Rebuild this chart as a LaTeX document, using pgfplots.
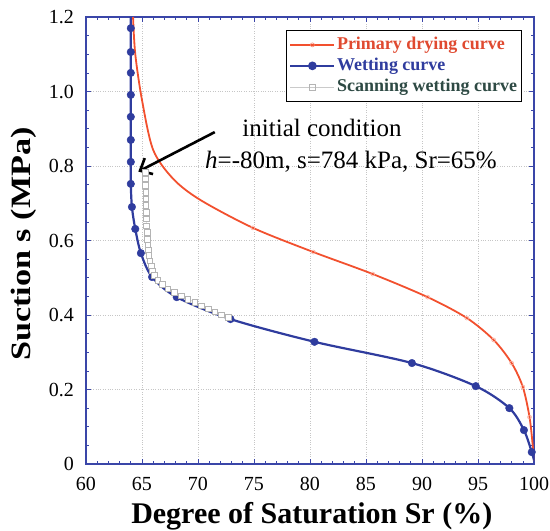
\documentclass[border=0pt]{standalone}
\usepackage{fontspec}
\setmainfont{Liberation Serif}
\usepackage{graphicx}
\usepackage{pgfplots}
\pgfplotsset{compat=1.18}
\usetikzlibrary{arrows.meta}
\definecolor{axblue}{HTML}{3A46A8}
\definecolor{wblue}{HTML}{2F3C9E}
\definecolor{dred}{HTML}{F2502E}
\definecolor{dredtxt}{HTML}{E04A30}
\definecolor{scangray}{HTML}{B4B4B4}
\definecolor{scantxt}{HTML}{2E4A44}
\begin{document}
\begin{tikzpicture}
\useasboundingbox (-86bp,-67bp) rectangle (464bp,464bp);
\begin{axis}[
  scale only axis, width=448bp, height=447bp,
  xmin=60, xmax=100, ymin=0, ymax=1.2,
  xtick={60,65,70,75,80,85,90,95,100},
  xticklabels={\textrm{60},\textrm{65},\textrm{70},\textrm{75},\textrm{80},\textrm{85},\textrm{90},\textrm{95},\textrm{100}},
  ytick={0,0.2,0.4,0.6,0.8,1.0,1.2},
  yticklabels={\textrm{0},\textrm{0.2},\textrm{0.4},\textrm{0.6},\textrm{0.8},\textrm{1.0},\textrm{1.2}},
  minor x tick num=4, minor y tick num=3,
  tick align=inside,
  major tick length=5bp, minor tick length=3bp,
  every tick/.style={axblue, line width=0.6bp},
  axis line style={axblue, line width=1.8bp},
  grid=major, major grid style={gray!45, dotted, line width=0.6bp},
  /pgf/number format/assume math mode=true,
  tick label style={font=\rmfamily\fontsize{20bp}{24bp}\selectfont, inner sep=0pt, black},
  xticklabel style={anchor=base, yshift=-26bp},
  yticklabel style={anchor=east, xshift=-12bp},
  xlabel={Degree of Saturation Sr (\%)},
  ylabel={\scalebox{1.22}[1]{Suction s (MPa)}},
  xlabel style={at={(axis description cs:0.504,-0.132)}, anchor=base, font=\fontsize{30bp}{34bp}\selectfont\bfseries},
  ylabel style={at={(axis description cs:-0.1395,0.492)}, anchor=center, font=\fontsize{28bp}{32bp}\selectfont\bfseries},
  legend style={at={(axis description cs:0.973,0.971)}, anchor=north east, draw=black, line width=0.8bp, fill=white,
    font=\fontsize{18bp}{20bp}\selectfont\bfseries, inner xsep=3bp, inner ysep=4bp,
    nodes={inner sep=1.5bp, text height=13.5bp, text depth=4.5bp}, row sep=0pt},
  legend cell align=left,
  legend image code/.code={\draw[#1, mark repeat=2, mark phase=2] plot coordinates {(0bp,0bp) (22bp,0bp) (44bp,0bp)};},
]
\addlegendimage{dred, line width=1.8bp, mark=o, mark size=2bp, mark options={solid, draw=dred!70, line width=0.6bp}}
\addlegendentry{\color{dredtxt}Primary drying curve}
\addlegendimage{wblue, line width=2.2bp, mark=*, mark size=3.2bp}
\addlegendentry{\color{wblue}Wetting curve}
\addlegendimage{scangray!70, line width=0.6bp, mark=square, mark size=3bp, mark options={solid, draw=scangray}}
\addlegendentry{\color{scantxt}Scanning wetting curve}

% primary drying curve
\addplot[dred, line width=1.8bp, smooth, forget plot] coordinates {
(64.2,1.2) (64.4,1.1) (65.0,0.977) (66.0,0.843) (67.8,0.765) (70.2,0.709)
(74.9,0.634) (80.3,0.569) (85.6,0.510) (90.5,0.448) (94.0,0.392) (96.4,0.333)
(98.0,0.271) (99.0,0.207) (99.6,0.126) (99.9,0.046) (100,0.01)};
\addplot[only marks, mark=o, mark size=2bp, mark options={draw=dred!45, line width=0.6bp}, forget plot] coordinates {
(74.9,0.634) (80.3,0.569) (85.6,0.510) (90.5,0.448) (94.0,0.392) (96.4,0.333)
(98.0,0.271) (99.0,0.207) (99.6,0.126)};

% wetting curve
\addplot[wblue, line width=2.2bp, smooth, forget plot] coordinates {
(64.0,1.2) (64.0,1.170) (64.0,1.106) (64.0,1.050) (64.0,0.991) (64.0,0.932) (64.0,0.870)
(64.0,0.811) (64.0,0.752) (64.1,0.690) (64.4,0.631) (64.9,0.566) (65.9,0.502)
(68.1,0.448) (72.9,0.389) (80.4,0.328) (89.1,0.271) (94.8,0.209) (97.8,0.150)
(99.1,0.091) (99.8,0.032) (100,0.01)};
\addplot[only marks, mark=*, mark size=3.8bp, wblue, forget plot] coordinates {
(64.0,1.170) (64.0,1.106) (64.0,1.050) (64.0,0.991) (64.0,0.932) (64.0,0.870)
(64.0,0.811) (64.0,0.752) (64.1,0.690) (64.4,0.631) (64.9,0.566) (65.9,0.502)
(68.1,0.448) (72.9,0.389) (80.4,0.328) (89.1,0.271) (94.8,0.209) (97.8,0.150)
(99.1,0.091) (99.8,0.032)};

% scanning wetting curve
\addplot[scangray!60, line width=0.5bp, mark=square*, mark size=2.8bp, mark options={fill=white, draw=scangray, line width=0.5bp}, forget plot] coordinates {
(65.3,0.784) (65.3,0.766) (65.3,0.748) (65.35,0.730) (65.35,0.712)
(65.35,0.694) (65.4,0.676) (65.4,0.658) (65.4,0.640)
(65.45,0.622) (65.45,0.604) (65.5,0.588) (65.55,0.574) (65.6,0.560) (65.7,0.546)
(65.8,0.532) (65.9,0.519) (66.1,0.506) (66.4,0.494) (66.8,0.482) (67.3,0.471)
(67.9,0.461) (68.5,0.452) (69.1,0.443) (69.7,0.434) (70.3,0.425) (70.9,0.417)
(71.5,0.409) (72.1,0.401) (72.7,0.394)};

\node[font=\fontsize{25bp}{30bp}\selectfont] at (axis cs:81.07,0.902) {initial condition};
\node[font=\fontsize{25bp}{30bp}\selectfont] at (axis cs:83.66,0.811) {\textit{h}=-80m, s=784 kPa, Sr=65\%};
\draw[line width=2.6bp, -{Straight Barb[length=10bp, width=18bp]}] (axis cs:71.5,0.891) -- (axis cs:64.67,0.785);
\end{axis}
\end{tikzpicture}
\end{document}
